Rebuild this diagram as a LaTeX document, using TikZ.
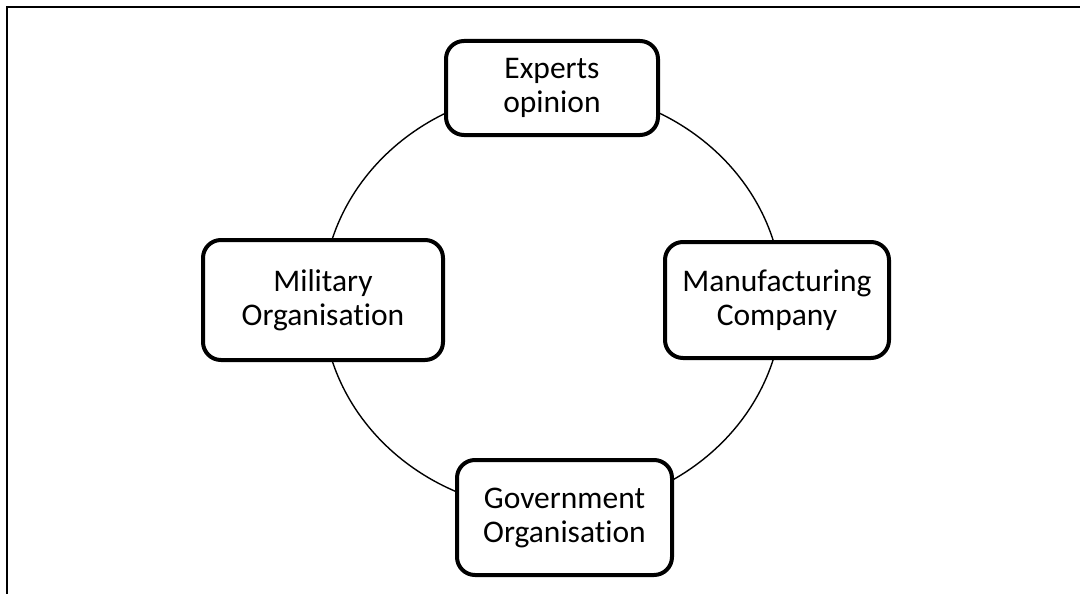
\documentclass[tikz,border=0pt]{standalone}
\usepackage{fontspec}
\setmainfont{Carlito}[Ligatures={NoCommon}]
\begin{document}
\begin{tikzpicture}[x=1pt,y=-1pt,
  boxst/.style={draw=black, line width=4pt, rounded corners=18pt, fill=white,
    align=center, font=\fontsize{31.5}{34}\selectfont, inner sep=0pt},
  ring/.style={draw=black, line width=1.4pt},
  frame/.style={draw=black, line width=2pt}]
\useasboundingbox (0,0) rectangle (1080,594);
\draw[frame] (1080,7) -- (7,7) -- (7,594);
\coordinate (c) at (552.5,300);
\draw[ring] (c) ellipse [x radius=230, y radius=211];
\node[boxst, minimum width=212pt, minimum height=94pt] (exp) at (552,88) {Experts\\opinion};
\node[boxst, minimum width=240pt, minimum height=120pt] (mil) at (323,300) {Military\\Organisation};
\node[boxst, minimum width=224pt, minimum height=116pt] (man) at (777,300) {Manufacturing\\Company};
\node[boxst, minimum width=215pt, minimum height=115pt] (gov) at (564.5,517.5) {Government\\Organisation};
\end{tikzpicture}
\end{document}
